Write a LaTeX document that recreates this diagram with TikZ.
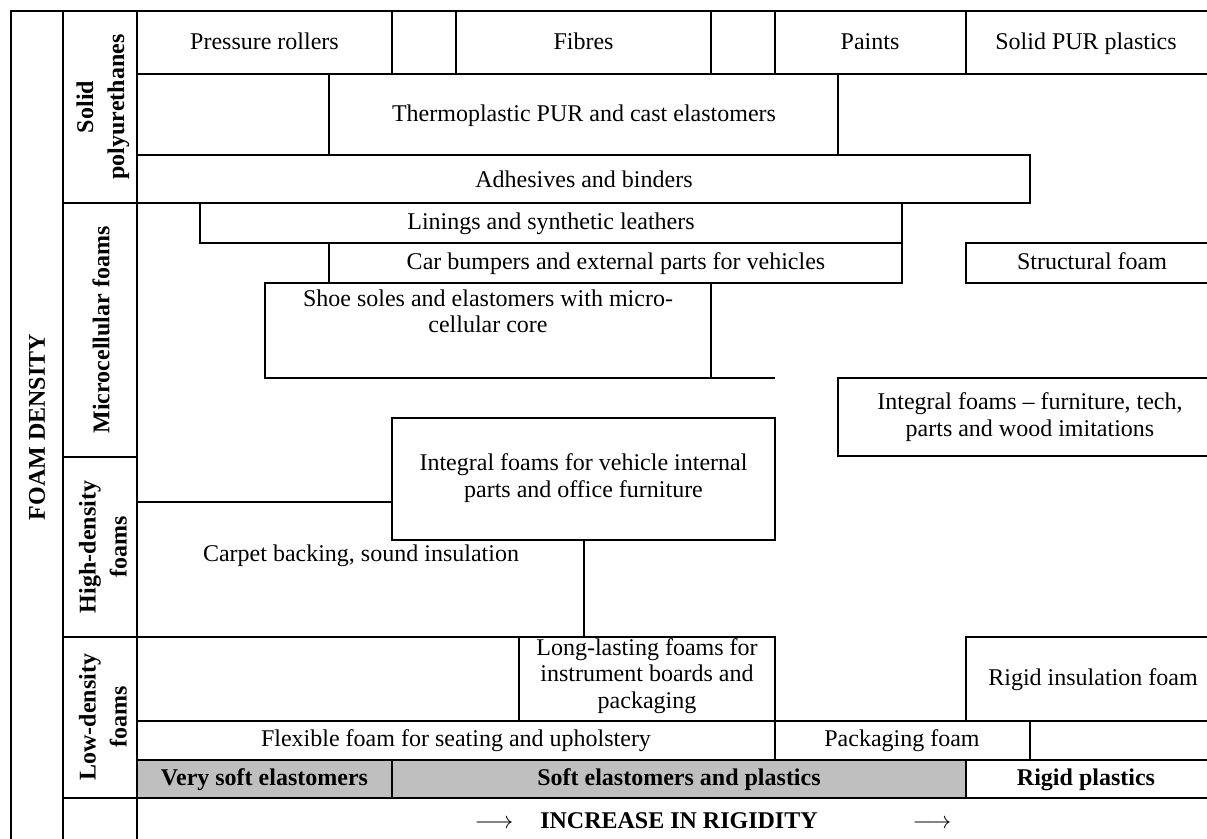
\documentclass[tikz,border=0pt]{standalone}
\usepackage{fontspec}
\setmainfont{Liberation Serif}
\tikzset{
  tabline/.style={line width=0.75pt, line cap=rect},
  cell/.style={font=\fontsize{12}{13.2}\selectfont, inner sep=0pt, text height=0.68em, text depth=0pt},
  block/.style={font=\fontsize{12}{13.2}\selectfont, inner sep=0pt, align=center},
  hdr/.style={font=\fontsize{12}{13.2}\selectfont\bfseries, inner sep=0pt, text height=0.68em, text depth=0pt},
  side/.style={font=\fontsize{12}{15.5}\selectfont\bfseries, inner sep=0pt, align=center, rotate=90},
}
\begin{document}
\begin{tikzpicture}[x=0.5pt,y=-0.5pt]
  \useasboundingbox (0,0) rectangle (1207,839);
  %\fill[lightgray] (0,0) rectangle (1207,839);
  \fill[black!25] (137,760) rectangle (966,798);

  % frame and label columns
  \draw[tabline] (11,839)--(11,11)--(1207,11);
  \draw[tabline] (63,11)--(63,839);
  \draw[tabline] (137,11)--(137,839);
  \draw[tabline] (63,203)--(1030,203);
  \draw[tabline] (63,457)--(137,457);
  \draw[tabline] (63,637)--(775,637);
  \draw[tabline] (63,798)--(1207,798);

  % solid polyurethanes
  \draw[tabline] (137,74)--(1207,74);
  \foreach \xx in {392,456,711,775,966} \draw[tabline] (\xx,11)--(\xx,74);
  \draw[tabline] (329,74)--(329,155);
  \draw[tabline] (838,74)--(838,155);
  \draw[tabline] (137,155)--(1030,155)--(1030,203);

  % microcellular foams
  \draw[tabline] (200,203)--(200,243)--(902,243);
  \draw[tabline] (902,203)--(902,283);
  \draw[tabline] (329,243)--(329,283);
  \draw[tabline] (265,283)--(902,283);
  \draw[tabline] (1207,243)--(966,243)--(966,283)--(1207,283);
  \draw[tabline] (265,283)--(265,378)--(774,378);
  \draw[tabline] (711,283)--(711,378);
  \draw[tabline] (1207,378)--(838,378)--(838,456)--(1207,456);

  % high-density foams
  \draw[tabline] (392,418) rectangle (775,540);
  \draw[tabline] (137,502)--(392,502);
  \draw[tabline] (584,540)--(584,637);

  % low-density foams
  \draw[tabline] (519,637)--(519,721);
  \draw[tabline] (775,637)--(775,760);
  \draw[tabline] (1207,637)--(966,637)--(966,721);
  \draw[tabline] (137,721)--(1207,721);
  \draw[tabline] (1030,721)--(1030,760);
  \draw[tabline] (137,760)--(1207,760);
  \draw[tabline] (392,760)--(392,798);
  \draw[tabline] (966,760)--(966,798);

  % texts
  \node[cell] (pressure) at (264.5,43) {Pressure rollers};
  \node[cell] (fibres) at (583.5,43) {Fibres};
  \node[cell] (paints) at (870,43) {Paints};
  \node[cell] (solidpur) at (1086,43) {Solid PUR plastics};
  \node[cell] (thermo) at (584,115) {Thermoplastic PUR and cast elastomers};
  \node[cell] (adhesives) at (584,181) {Adhesives and binders};
  \node[cell] (linings) at (551,223) {Linings and synthetic leathers};
  \node[cell] (bumpers) at (616,263) {Car bumpers and external parts for vehicles};
  \node[cell] (structural) at (1092,263) {Structural foam};
  \node[block,anchor=north] (shoe) at (488,289) {Shoe soles and elastomers with micro-\\cellular core};
  \node[block] (intfurn) at (1030,417) {Integral foams -- furniture, tech,\\parts and wood imitations};
  \node[block] (intveh) at (583.5,478) {Integral foams for vehicle internal\\parts and office furniture};
  \node[cell] (carpet) at (361,555) {Carpet backing, sound insulation};
  \node[block] (longlast) at (647,676) {Long-lasting foams for\\instrument boards and\\packaging};
  \node[cell] (rigidins) at (1093,679) {Rigid insulation foam};
  \node[cell] (flexible) at (456,740) {Flexible foam for seating and upholstery};
  \node[cell] (packaging) at (902,740) {Packaging foam};
  \node[hdr] (verysoft) at (264.5,779) {Very soft elastomers};
  \node[hdr] (softel) at (679,779) {Soft elastomers and plastics};
  \node[hdr] (rigidpl) at (1086,779) {Rigid plastics};
  \node[hdr] (arrowl) at (494,822) {$\longrightarrow$};
  \node[hdr] (increase) at (679,822) {INCREASE IN RIGIDITY};
  \node[hdr] (arrowr) at (932,822) {$\longrightarrow$};

  % side labels
  \node[side] (density) at (37,427) {FOAM DENSITY};
  \node[side] (solidlab) at (103,107) {Solid\\polyurethanes};
  \node[side] (microlab) at (101,330) {Microcellular foams};
  \node[side] (highlab) at (103,547) {High-density\\foams};
  \node[side] (lowlab) at (103,717) {Low-density\\foams};
\end{tikzpicture}
\end{document}
